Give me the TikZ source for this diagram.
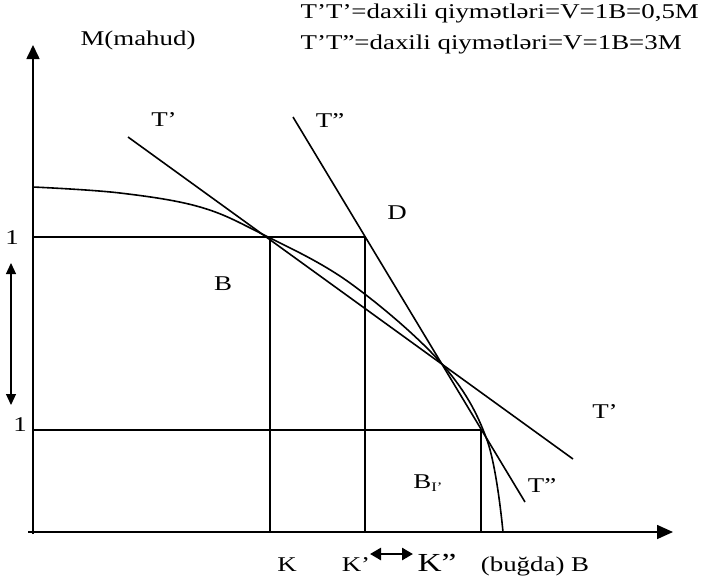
\documentclass[tikz,border=0pt]{standalone}
\usepackage{fontspec}
\setmainfont[FakeStretch=1.28]{Liberation Serif}
\usetikzlibrary{arrows.meta}

\begin{document}
\begin{tikzpicture}[x=1pt,y=-1pt,%
		line/.style={line width=1.6pt},%
		lab/.style={font=\fontsize{21}{24}\selectfont, inner sep=0pt}]
	\useasboundingbox (0,0) rectangle (704,579);
	% points
	\coordinate (O) at (33,534);
	\coordinate (Ytop) at (33,45);
	\coordinate (Xbeg) at (28,532);
	\coordinate (Xend) at (673,532);
	\coordinate (M1) at (33,237);
	\coordinate (M2) at (33,430);
	\coordinate (A) at (270,237);
	\coordinate (D) at (365,237);
	\coordinate (C) at (481,430);
	\coordinate (K) at (270,532);
	\coordinate (Kp) at (365,532);
	\coordinate (Kc) at (481,532);
	\coordinate (T1a) at (128,137);
	\coordinate (T1b) at (573,459);
	\coordinate (T2a) at (293,117);
	\coordinate (T2b) at (525,502);
	\coordinate (Ua) at (11,263);
	\coordinate (Ub) at (11,405);
	\coordinate (Va) at (370,554);
	\coordinate (Vb) at (413,554);
	
	% axes
	\draw[line,-{Triangle[length=14pt,width=13pt]}] (O) -- (Ytop);
	\draw[line,-{Triangle[length=16pt,width=14pt]}] (Xbeg) -- (Xend);
	
	% levels
	\draw[line] (M1) -- (D) -- (Kp);
	\draw[line] (A) -- (K);
	\draw[line] (M2) -- (C) -- (Kc);
	
	% production curve
	\draw[line] plot[smooth, tension=0.6] coordinates {(33,187) (120,193) (200,207) (262,234)
		(350,283) (442,364) (487,440) (503,532)};
	
	% price lines
	\draw[line] (T1a) -- (T1b);
	\draw[line] (T2a) -- (T2b);
	
	% arrows
	\draw[line width=1.1pt,{Triangle[length=11pt,width=10pt]}-{Triangle[length=11pt,width=10pt]}] (Ua) -- (Ub);
	\draw[line width=2.6pt,{Triangle[length=11pt,width=12pt]}-{Triangle[length=11pt,width=12pt]}] (Va) -- (Vb);
	
	% labels
	\node[lab,anchor=east] (r1) at (699,13) {T'T'=daxili qiymətləri=V=1B=0,5M};
	\node[lab,anchor=west] (r2) at ([yshift=-31pt]r1.west) {T'T''=daxili qiymətləri=V=1B=3M};
	\node[lab] (my) at (138,40) {M(mahud)};
	\node[lab] (t1) at (164,120) {T'};
	\node[lab] (t2) at (330,121) {T''};
	\node[lab] (d) at (397,213) {D};
	\node[lab] (b) at (223,284) {B};
	\node[lab] (t1r) at (605,412) {T'};
	\node[lab] (t2r) at (542,486) {T''};
	\node[lab] (bi) at (428,483) {B\raisebox{-3pt}{\fontsize{13}{13}\selectfont I'}};
	\node[lab] (one1) at (12,238) {1};
	\node[lab] (one2) at (20,425) {1};
	\node[lab,anchor=base] (k) at (287,571) {K};
	\node[lab,anchor=base] (kp) at (356,571) {K'};
	\node[lab,anchor=base,font=\fontsize{26}{28}\selectfont] (kc) at (437,571) {K''};
	\node[lab,anchor=base] (bx) at (535,571) {(buğda) B};
\end{tikzpicture}
\end{document}
